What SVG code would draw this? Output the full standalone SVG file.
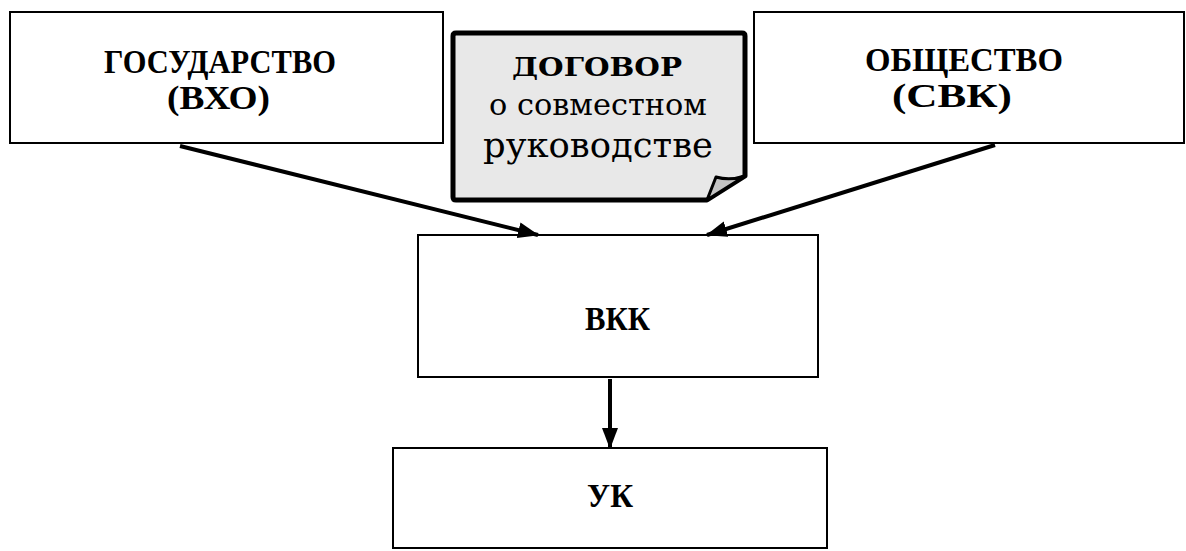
<svg xmlns="http://www.w3.org/2000/svg" width="1186" height="551" viewBox="0 0 1186 551">
<style>
.box{fill:#fff;stroke:#000;stroke-width:2}
.lbl{font-family:"Liberation Serif","Times New Roman",serif;font-weight:bold;font-size:34px;fill:#000}
.doc{font-family:"DejaVu Serif",serif;fill:#000}
.conn{stroke:#000;stroke-width:4;fill:none}
</style>
<defs>
<marker id="ah" markerUnits="userSpaceOnUse" markerWidth="24" markerHeight="18" refX="20" refY="8" orient="auto">
<path d="M0,0 L21,8 L0,16 z" fill="#000"/>
</marker>
</defs>
<rect width="1186" height="551" fill="#fff"/>
<g id="gosudarstvo">
<rect class="box" x="10" y="12" width="433" height="131"/>
<text class="lbl" x="104" y="73" textLength="232" lengthAdjust="spacingAndGlyphs">ГОСУДАРСТВО</text>
<text class="lbl" x="167" y="109" textLength="103" lengthAdjust="spacingAndGlyphs">(ВХО)</text>
</g>
<g id="obshchestvo">
<rect class="box" x="754" y="12" width="430" height="131"/>
<text class="lbl" x="865" y="71" textLength="198" lengthAdjust="spacingAndGlyphs">ОБЩЕСТВО</text>
<text class="lbl" x="892" y="107" textLength="120" lengthAdjust="spacingAndGlyphs">(СВК)</text>
</g>
<g id="dogovor">
<path d="M456,33 H742 Q745,33 745,36 V176 L707,200 H456 Q453,200 453,197 V36 Q453,33 456,33 Z" fill="#e8e8e8" stroke="#000" stroke-width="5" stroke-linejoin="round"/>
<path d="M745,176 Q730,181 716,177 L707,200 Z" fill="#c4c4c4" stroke="#000" stroke-width="3" stroke-linejoin="round"/>
<text class="doc" x="512" y="76" font-size="26" font-weight="bold" textLength="170" lengthAdjust="spacingAndGlyphs">ДОГОВОР</text>
<text class="doc" x="489" y="115" font-size="30" textLength="218" lengthAdjust="spacingAndGlyphs">о совместном</text>
<text class="doc" x="483" y="157" font-size="36" textLength="230" lengthAdjust="spacingAndGlyphs">руководстве</text>
</g>
<g id="vkk">
<rect class="box" x="418" y="235" width="400" height="142"/>
<text class="lbl" x="585" y="330" textLength="65" lengthAdjust="spacingAndGlyphs">ВКК</text>
</g>
<g id="uk">
<rect class="box" x="393" y="448" width="434" height="100"/>
<text class="lbl" x="587" y="507" textLength="46" lengthAdjust="spacingAndGlyphs">УК</text>
</g>
<g id="connectors">
<line class="conn" x1="180" y1="146" x2="538" y2="235" marker-end="url(#ah)"/>
<line class="conn" x1="995" y1="145" x2="707" y2="235" marker-end="url(#ah)"/>
<line class="conn" x1="610" y1="379" x2="610" y2="448" marker-end="url(#ah)"/>
</g>
</svg>
